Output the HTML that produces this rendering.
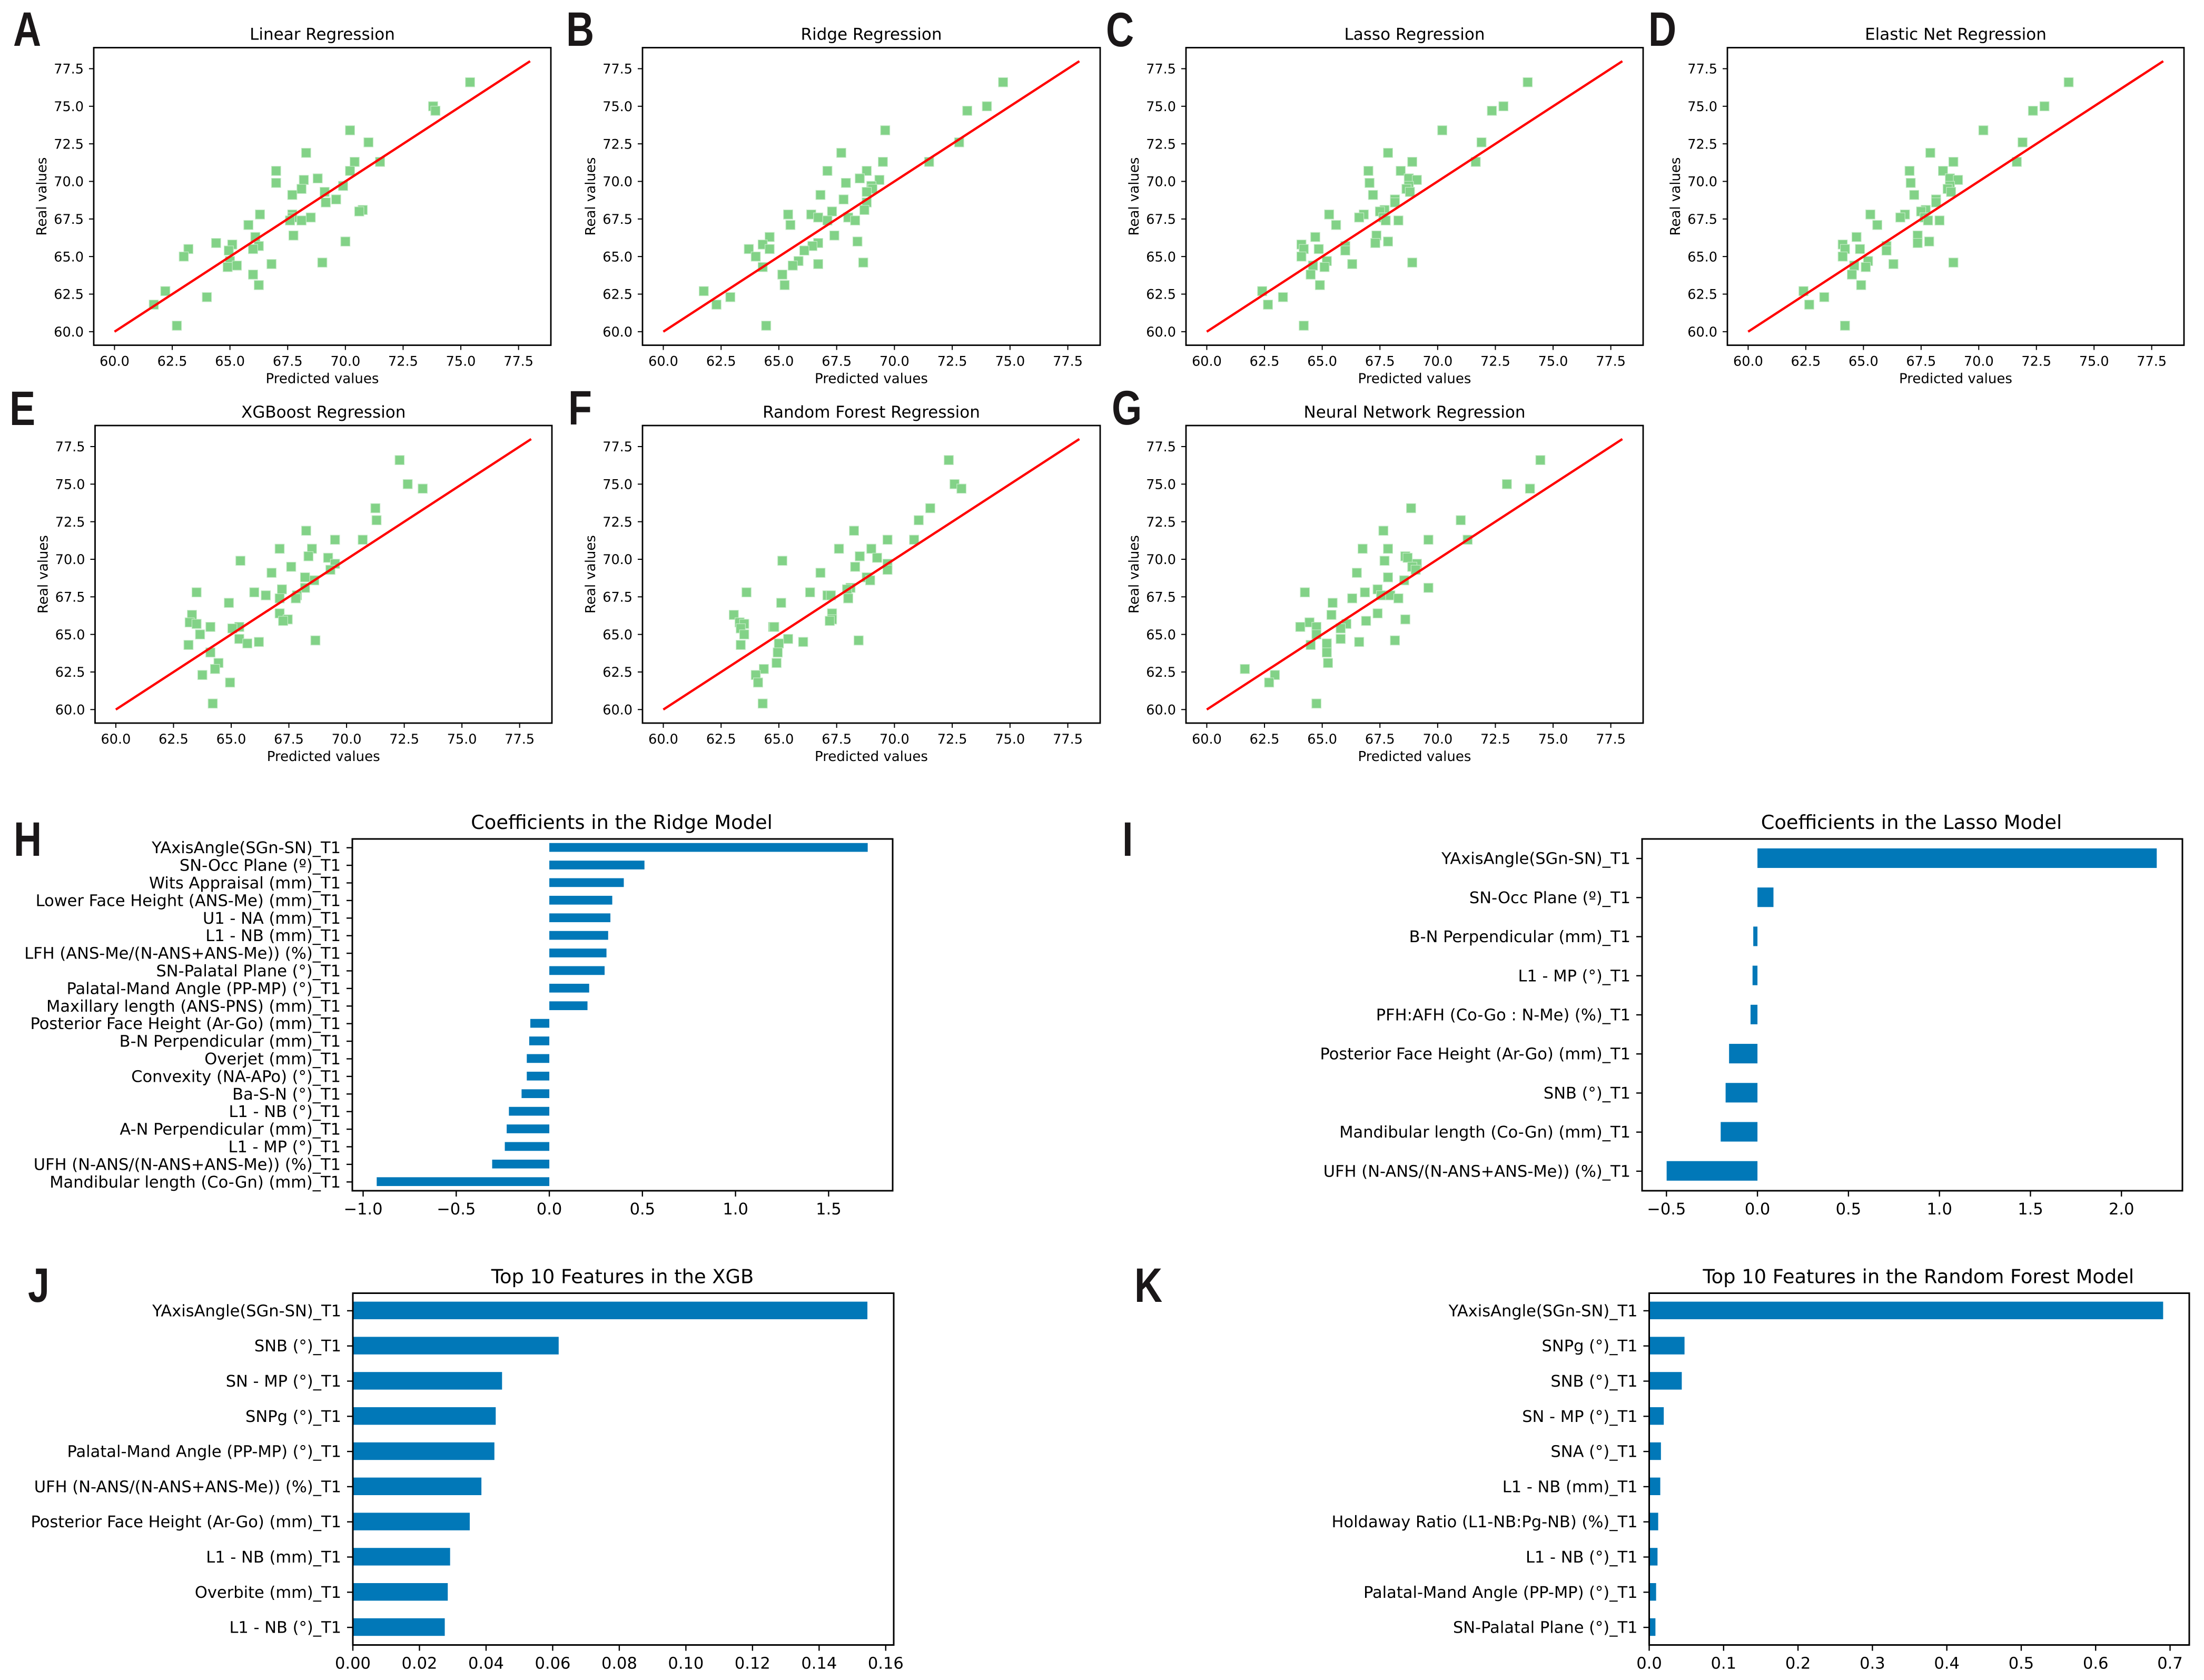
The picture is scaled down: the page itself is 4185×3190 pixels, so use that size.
<!DOCTYPE html>
<html lang="en">
<head>
<meta charset="utf-8">
<title>Regression model comparison figure</title>
<style>
html,body{margin:0;padding:0;background:#fff;width:4185px;height:3190px;overflow:hidden}
svg{display:block;position:absolute;left:0;top:0}
text{font-family:"DejaVu Sans","Liberation Sans",sans-serif;fill:#000;text-rendering:geometricPrecision}
.letter{font-family:"Liberation Sans",sans-serif;font-weight:700;fill:#1a1718}
</style>
</head>
<body>
<svg id="figure" xmlns="http://www.w3.org/2000/svg" width="4185" height="3190" viewBox="0 0 4185 3190">
<rect x="0" y="0" width="4185" height="3190" fill="#ffffff"/>
</svg>
<script>
/* ---------- scatter data ---------- */
const realValues = [76.6,75.0,74.7,73.4,72.6,71.9,71.3,71.3,70.7,70.7,70.2,70.1,69.9,69.7,69.5,69.3,69.1,68.8,68.6,68.1,68.0,67.8,67.8,67.6,67.6,67.4,67.4,67.1,66.4,66.3,66.0,65.9,65.8,65.7,65.5,65.5,65.4,65.0,64.7,64.6,64.5,64.4,64.3,63.8,63.1,62.7,62.3,61.8,60.4];
const predLinear = [75.4,73.8,73.9,70.2,71.0,68.3,70.4,71.5,70.2,67.0,68.8,68.2,67.0,69.9,68.1,69.1,67.7,69.6,69.15,70.75,70.6,66.3,67.7,67.7,68.5,67.6,68.1,65.8,67.75,66.1,70.0,64.4,65.1,66.25,66.0,63.2,64.95,63.0,65.0,69.0,66.8,65.3,64.9,66.0,66.25,62.2,64.0,61.7,62.7];
const predRidge = [74.7,74.0,73.15,69.6,72.8,67.7,69.5,71.5,68.8,67.1,68.5,69.35,67.9,69.0,69.05,68.8,66.8,67.8,68.8,68.7,67.3,65.4,66.4,66.7,68.0,67.1,68.3,65.5,67.4,64.6,68.4,66.7,64.3,66.45,63.7,64.6,66.1,64.0,65.85,68.65,66.7,65.6,64.3,65.15,65.25,61.75,62.9,62.3,64.45];
const predLasso = [73.9,72.85,72.35,70.2,71.9,67.85,68.9,71.65,68.4,67.0,68.75,69.1,67.05,68.75,68.65,68.8,67.2,68.15,68.15,67.7,67.5,65.3,66.8,66.6,67.65,67.75,68.3,65.6,67.35,64.7,67.85,67.3,64.1,66.0,64.2,64.85,66.0,64.1,65.2,68.9,66.3,64.6,65.1,64.5,64.9,62.4,63.3,62.65,64.2];
const predElastic = [73.9,72.85,72.35,70.2,71.9,67.9,68.9,71.65,68.45,67.0,68.75,69.1,67.05,68.75,68.65,68.8,67.2,68.15,68.15,67.7,67.5,65.3,66.8,66.6,67.65,67.8,68.3,65.6,67.35,64.7,67.85,67.35,64.1,66.0,64.2,64.85,66.0,64.1,65.2,68.9,66.3,64.6,65.1,64.5,64.9,62.4,63.3,62.65,64.2];
const predXgb = [72.3,72.65,73.3,71.25,71.3,68.25,69.5,70.7,68.5,67.1,68.35,69.2,65.4,69.5,67.6,69.3,66.75,68.2,68.6,68.2,67.2,63.5,66.0,66.5,67.85,67.1,67.8,64.9,67.1,63.3,67.45,67.25,63.2,63.5,64.1,65.35,65.05,63.65,65.35,68.65,66.2,65.7,63.15,64.1,64.45,64.3,63.75,64.95,64.2];
const predForest = [72.35,72.6,72.9,71.55,71.05,68.25,69.7,70.85,69.0,67.6,68.5,69.25,65.15,69.7,68.3,69.7,66.8,68.8,68.95,68.1,67.95,63.6,66.35,67.1,67.25,68.0,68.0,65.1,67.3,63.05,67.3,67.2,63.3,63.5,64.75,64.8,63.35,63.5,65.4,68.45,66.05,65.0,63.35,64.95,64.9,64.35,64.0,64.1,64.3];
const predNeural = [74.45,73.0,74.0,68.85,71.0,67.65,69.6,71.3,67.85,66.75,68.6,68.7,67.7,69.1,68.9,69.05,66.5,67.85,68.55,69.6,67.4,64.25,66.85,67.55,67.95,66.3,68.3,65.45,67.4,65.4,68.6,66.9,64.45,66.05,64.05,64.75,65.8,64.75,65.8,68.15,66.6,65.2,64.5,65.2,65.25,61.65,62.95,62.7,64.75];
const identityLine = [60,78];
const scatterTicks = ['60.0','62.5','65.0','67.5','70.0','72.5','75.0','77.5'];

/* ---------- bar data ---------- */
const ridgeCategories = ['YAxisAngle(SGn-SN)_T1','SN-Occ Plane (º)_T1','Wits Appraisal (mm)_T1','Lower Face Height (ANS-Me) (mm)_T1','U1 - NA (mm)_T1','L1 - NB (mm)_T1','LFH (ANS-Me/(N-ANS+ANS-Me)) (%)_T1','SN-Palatal Plane (°)_T1','Palatal-Mand Angle (PP-MP) (°)_T1','Maxillary length (ANS-PNS) (mm)_T1','Posterior Face Height (Ar-Go) (mm)_T1','B-N Perpendicular (mm)_T1','Overjet (mm)_T1','Convexity (NA-APo) (°)_T1','Ba-S-N (°)_T1','L1 - NB (°)_T1','A-N Perpendicular (mm)_T1','L1 - MP (°)_T1','UFH (N-ANS/(N-ANS+ANS-Me)) (%)_T1','Mandibular length (Co-Gn) (mm)_T1'];
const ridgeValues = [1.71,0.511,0.40,0.338,0.328,0.316,0.307,0.297,0.214,0.205,-0.102,-0.108,-0.121,-0.121,-0.149,-0.217,-0.229,-0.239,-0.307,-0.927];
const ridgeTicks = ['−1.0','−0.5','0.0','0.5','1.0','1.5'];
const lassoCategories = ['YAxisAngle(SGn-SN)_T1','SN-Occ Plane (º)_T1','B-N Perpendicular (mm)_T1','L1 - MP (°)_T1','PFH:AFH (Co-Go : N-Me) (%)_T1','Posterior Face Height (Ar-Go) (mm)_T1','SNB (°)_T1','Mandibular length (Co-Gn) (mm)_T1','UFH (N-ANS/(N-ANS+ANS-Me)) (%)_T1'];
const lassoValues = [2.194,0.088,-0.023,-0.027,-0.038,-0.156,-0.175,-0.202,-0.499];
const lassoTicks = ['−0.5','0.0','0.5','1.0','1.5','2.0'];
const xgbCategories = ['YAxisAngle(SGn-SN)_T1','SNB (°)_T1','SN - MP (°)_T1','SNPg (°)_T1','Palatal-Mand Angle (PP-MP) (°)_T1','UFH (N-ANS/(N-ANS+ANS-Me)) (%)_T1','Posterior Face Height (Ar-Go) (mm)_T1','L1 - NB (mm)_T1','Overbite (mm)_T1','L1 - NB (°)_T1'];
const xgbValues = [0.1545,0.0618,0.0448,0.0429,0.0425,0.0386,0.0351,0.0292,0.0285,0.0276];
const xgbTicks = ['0.00','0.02','0.04','0.06','0.08','0.10','0.12','0.14','0.16'];
const forestCategories = ['YAxisAngle(SGn-SN)_T1','SNPg (°)_T1','SNB (°)_T1','SN - MP (°)_T1','SNA (°)_T1','L1 - NB (mm)_T1','Holdaway Ratio (L1-NB:Pg-NB) (%)_T1','L1 - NB (°)_T1','Palatal-Mand Angle (PP-MP) (°)_T1','SN-Palatal Plane (°)_T1'];
const forestValues = [0.6907,0.0475,0.0438,0.0196,0.0158,0.0149,0.0121,0.0112,0.0093,0.0084];
const forestTicks = ['0.0','0.1','0.2','0.3','0.4','0.5','0.6','0.7'];

/* ---------- layout ---------- */
const svg = document.getElementById('figure');
const NS = 'http://www.w3.org/2000/svg';

function mk(parent, tag, name, props, content) {
  const e = document.createElementNS(NS, tag);
  
  
  for (const k in props) e.setAttribute(k, props[k]);
  if (content !== undefined) e.textContent = content;
  parent.appendChild(e);
  return e;
}
function scale(d0, d1, r0, r1) {
  return function (v) { return r0 + (v - d0) / (d1 - d0) * (r1 - r0); };
}
function tickNumber(label) {
  return parseFloat(label.replace('−', '-'));
}

function drawScatter(cfg) {
  const g = mk(svg, 'g', cfg.id + '-scatter-panel', {});
  const xS = scale(59.1, 78.9, cfg.left, cfg.right);
  const yS = scale(59.1, 78.9, cfg.bottom, cfg.top);
  const size = 17.6;
  cfg.pred.forEach(function (p, i) {
    mk(g, 'rect', cfg.id + '-point', {
      x: xS(p) - size / 2, y: yS(realValues[i]) - size / 2,
      width: size, height: size, fill: '#82d287',
      stroke: '#c4eac6', 'stroke-width': 1.2
    });
  });
  mk(g, 'line', cfg.id + '-identity-line', {
    x1: xS(identityLine[0]), y1: yS(identityLine[0]),
    x2: xS(identityLine[1]), y2: yS(identityLine[1]),
    stroke: '#ff0000', 'stroke-width': 4.4
  });
  mk(g, 'rect', cfg.id + '-axes-frame', {
    x: cfg.left, y: cfg.top, width: cfg.right - cfg.left, height: cfg.bottom - cfg.top,
    fill: 'none', stroke: '#000', 'stroke-width': 2.8
  });
  scatterTicks.forEach(function (t) {
    const v = tickNumber(t);
    mk(g, 'line', cfg.id + '-x-tick', { x1: xS(v), x2: xS(v), y1: cfg.bottom, y2: cfg.bottom + 9, stroke: '#000', 'stroke-width': 2 });
    mk(g, 'text', cfg.id + '-x-tick-label', { x: xS(v), y: cfg.bottom + 39, 'text-anchor': 'middle', 'font-size': 25.5 }, t);
    mk(g, 'line', cfg.id + '-y-tick', { x1: cfg.left - 9, x2: cfg.left, y1: yS(v), y2: yS(v), stroke: '#000', 'stroke-width': 2 });
    mk(g, 'text', cfg.id + '-y-tick-label', { x: cfg.left - 19, y: yS(v) + 9.2, 'text-anchor': 'end', 'font-size': 25.5 }, t);
  });
  const cx = (cfg.left + cfg.right) / 2;
  const cy = (cfg.top + cfg.bottom) / 2;
  mk(g, 'text', cfg.id + '-title', { x: cx, y: cfg.top - 15, 'text-anchor': 'middle', 'font-size': 31 }, cfg.title);
  mk(g, 'text', cfg.id + '-x-axis-title', { x: cx, y: cfg.bottom + 72, 'text-anchor': 'middle', 'font-size': 26 }, 'Predicted values');
  mk(g, 'text', cfg.id + '-y-axis-title', { x: 0, y: 0, transform: 'translate(' + (cfg.left - 90) + ' ' + cy + ') rotate(-90)', 'text-anchor': 'middle', 'font-size': 26 }, 'Real values');
}

function drawBars(cfg) {
  const g = mk(svg, 'g', cfg.id + '-bar-panel', {});
  const xS = scale(cfg.xMin, cfg.xMax, cfg.left, cfg.right);
  const n = cfg.categories.length;
  const step = (cfg.bottom - cfg.top) / n;
  const yBand = function (i) { return cfg.top + (i + 0.5) * step; };
  cfg.values.forEach(function (v, i) {
    const a = xS(0), b = xS(v);
    mk(g, 'rect', cfg.id + '-bar', {
      x: Math.min(a, b), y: yBand(i) - step / 4 - 0.6,
      width: Math.abs(b - a), height: step / 2, fill: '#0178b8'
    });
  });
  mk(g, 'rect', cfg.id + '-axes-frame', {
    x: cfg.left, y: cfg.top, width: cfg.right - cfg.left, height: cfg.bottom - cfg.top,
    fill: 'none', stroke: '#000', 'stroke-width': 3
  });
  cfg.categories.forEach(function (c, i) {
    mk(g, 'line', cfg.id + '-y-tick', { x1: cfg.left - 11, x2: cfg.left, y1: yBand(i), y2: yBand(i), stroke: '#000', 'stroke-width': 2.4 });
    mk(g, 'text', cfg.id + '-category-label', { x: cfg.left - 22, y: yBand(i) + 10.5, 'text-anchor': 'end', 'font-size': 30.5 }, c);
  });
  cfg.ticks.forEach(function (t) {
    const v = tickNumber(t);
    mk(g, 'line', cfg.id + '-x-tick', { x1: xS(v), x2: xS(v), y1: cfg.bottom, y2: cfg.bottom + 11, stroke: '#000', 'stroke-width': 2.4 });
    mk(g, 'text', cfg.id + '-x-tick-label', { x: xS(v), y: cfg.bottom + 45, 'text-anchor': 'middle', 'font-size': 30.5 }, t);
  });
  mk(g, 'text', cfg.id + '-title', { x: (cfg.left + cfg.right) / 2 - 1.5, y: cfg.top - 19, 'text-anchor': 'middle', 'font-size': 36.8 }, cfg.title);
}

function drawLetter(ch, x, baseline) {
  mk(svg, 'text', 'panel-label-' + ch.toLowerCase(), {
    'class': 'letter',
    transform: 'translate(' + x + ' ' + baseline + ') scale(0.8 1)',
    x: 0, y: 0, 'font-size': 92
  }, ch);
}

drawScatter({ id: 'linear', title: 'Linear Regression', pred: predLinear, left: 178, right: 1046, top: 90.5, bottom: 655.5 });
drawScatter({ id: 'ridge', title: 'Ridge Regression', pred: predRidge, left: 1220, right: 2089, top: 90.5, bottom: 655.5 });
drawScatter({ id: 'lasso', title: 'Lasso Regression', pred: predLasso, left: 2252, right: 3120, top: 90.5, bottom: 655.5 });
drawScatter({ id: 'elastic-net', title: 'Elastic Net Regression', pred: predElastic, left: 3280, right: 4147, top: 90.5, bottom: 655.5 });
drawScatter({ id: 'xgboost', title: 'XGBoost Regression', pred: predXgb, left: 180.5, right: 1048, top: 808, bottom: 1373 });
drawScatter({ id: 'random-forest', title: 'Random Forest Regression', pred: predForest, left: 1220, right: 2089, top: 808, bottom: 1373 });
drawScatter({ id: 'neural-network', title: 'Neural Network Regression', pred: predNeural, left: 2252, right: 3120, top: 808, bottom: 1373 });

drawBars({ id: 'ridge-coefficients', title: 'Coefficients in the Ridge Model', categories: ridgeCategories, values: ridgeValues, ticks: ridgeTicks, xMin: -1.058, xMax: 1.844, left: 669, right: 1695, top: 1593, bottom: 2261 });
drawBars({ id: 'lasso-coefficients', title: 'Coefficients in the Lasso Model', categories: lassoCategories, values: lassoValues, ticks: lassoTicks, xMin: -0.634, xMax: 2.335, left: 3118, right: 4144, top: 1593, bottom: 2261 });
drawBars({ id: 'xgb-features', title: 'Top 10 Features in the XGB', categories: xgbCategories, values: xgbValues, ticks: xgbTicks, xMin: 0, xMax: 0.1624, left: 670, right: 1697, top: 2455.5, bottom: 3123.5 });
drawBars({ id: 'forest-features', title: 'Top 10 Features in the Random Forest Model', categories: forestCategories, values: forestValues, ticks: forestTicks, xMin: 0, xMax: 0.7258, left: 3131.5, right: 4157, top: 2455.5, bottom: 3123.5 });

drawLetter('A', 25, 87);
drawLetter('B', 1075, 87);
drawLetter('C', 2100, 88);
drawLetter('D', 3130, 87);
drawLetter('E', 18, 807);
drawLetter('F', 1079, 806);
drawLetter('G', 2111, 806);
drawLetter('H', 26, 1625);
drawLetter('I', 2131, 1625);
drawLetter('J', 53, 2472);
drawLetter('K', 2154, 2472);
</script>
</body>
</html>
